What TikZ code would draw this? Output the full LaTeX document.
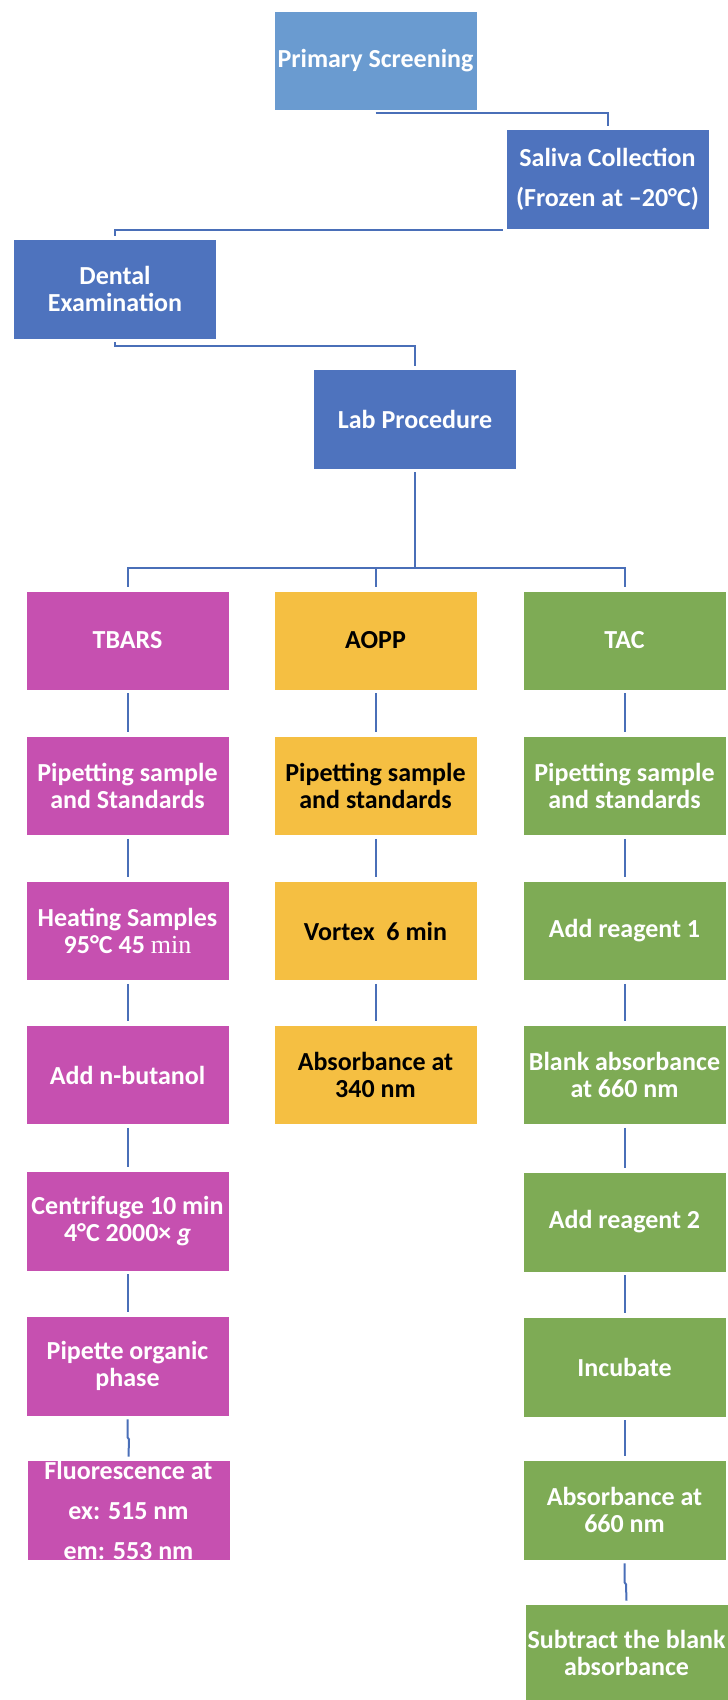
\documentclass[tikz,border=0pt]{standalone}
\usepackage{fontspec}
\setmainfont{Carlito}
\newfontfamily\serifmin{Liberation Serif}
\definecolor{clPrim}{HTML}{6A9BD0}
\definecolor{clBlue}{HTML}{4E73BE}
\definecolor{clMag}{HTML}{C650B0}
\definecolor{clYel}{HTML}{F5BF42}
\definecolor{clGrn}{HTML}{7EAB55}
\definecolor{clLine}{HTML}{4A6FB8}
\begin{document}
\begin{tikzpicture}[x=1pt,y=-1pt,
  box/.style={rectangle, draw=white, line width=0.6pt, minimum width=203pt, minimum height=99pt,
    inner sep=0pt, align=center, text=white, font=\fontsize{26}{27}\selectfont\bfseries},
  widebox/.style={box, font=\fontsize{26}{40}\selectfont\bfseries},
  primbox/.style={box, fill=clPrim},
  bluebox/.style={box, fill=clBlue},
  magbox/.style={box, fill=clMag},
  yelbox/.style={box, fill=clYel, text=black},
  grnbox/.style={box, fill=clGrn},
  conn/.style={draw=clLine, line width=2pt},
  vconn/.style={conn, shorten <=3pt, shorten >=4pt}
]
\useasboundingbox (0,0) rectangle (728,1700);

% top chain
\node[primbox] (prim) at (375.5,61) {Primary Screening};
\node[bluebox, widebox, fill=clBlue, minimum height=100pt] (sal) at (607.5,179) {Saliva Collection\\(Frozen at –20°C)};
\node[bluebox, minimum height=100pt] (dent) at (115,289) {Dental\\Examination};
\node[bluebox, minimum height=100pt] (lab) at (415,419) {Lab Procedure};

% TBARS column
\node[magbox] (tb1) at (127.5,640.5) {TBARS};
\node[magbox] (tb2) at (127.5,786) {Pipetting sample\\and Standards};
\node[magbox] (tb3) at (127.5,931) {Heating Samples\\95°C 45 {\serifmin\mdseries min}};
\node[magbox] (tb4) at (127.5,1075) {Add n-butanol};
\node[magbox, minimum height=100pt] (tb5) at (127.5,1221) {Centrifuge 10 min\\4°C 2000× \textit{g}};
\node[magbox, minimum height=100pt] (tb6) at (127.5,1366) {Pipette organic\\phase};
\node[magbox, widebox, fill=clMag, minimum height=100pt] (tb7) at (128.5,1510) {Fluorescence at\\ex: 515 nm\\em: 553 nm};

% AOPP column
\node[yelbox] (ao1) at (375.5,640.5) {AOPP};
\node[yelbox] (ao2) at (375.5,786) {Pipetting sample\\and standards};
\node[yelbox] (ao3) at (375.5,931) {Vortex\ \ 6 min};
\node[yelbox] (ao4) at (375.5,1075) {Absorbance at\\340 nm};

% TAC column
\node[grnbox] (tc1) at (624.5,640.5) {TAC};
\node[grnbox] (tc2) at (624.5,786) {Pipetting sample\\and standards};
\node[grnbox] (tc3) at (624.5,931) {Add reagent 1};
\node[grnbox] (tc4) at (624.5,1075) {Blank absorbance\\at 660 nm};
\node[grnbox, minimum height=100pt] (tc5) at (624.5,1222) {Add reagent 2};
\node[grnbox, minimum height=100pt] (tc6) at (624.5,1367) {Incubate};
\node[grnbox, minimum height=100pt] (tc7) at (624.5,1510) {Absorbance at\\660 nm};
\node[grnbox, minimum height=98pt] (tc8) at (626.5,1653) {Subtract the blank\\absorbance};

% top connectors
\draw[conn] ([yshift=-2pt]prim.south) -| ([yshift=3pt]sal.north);
\draw[conn] ([xshift=-3pt,yshift=-0.5pt]sal.south west) -| ([yshift=3pt]dent.north);
\draw[conn] ([yshift=-3pt]dent.south) -- ++(0,4) -| ([yshift=3pt]lab.north);

% branch
\coordinate (j) at (415,568);
\draw[conn] ([yshift=-3pt]lab.south) -- (j);
\draw[conn] (j) -| ([yshift=4pt]tb1.north);
\draw[conn] (j) -| ([yshift=4pt]tc1.north);
\draw[conn] (ao1.north |- j) -- ([yshift=4pt]ao1.north);

% column connectors
\foreach \a/\b in {tb1/tb2,tb2/tb3,tb3/tb4,tb4/tb5,tb5/tb6,ao1/ao2,ao2/ao3,ao3/ao4,tc1/tc2,tc2/tc3,tc3/tc4,tc4/tc5,tc5/tc6,tc6/tc7}
  \draw[vconn] (\a.south) -- (\a.south |- \b.north);
\draw[conn] ([yshift=-3pt]tb6.south) -- ++(0,18) -- ++(1.5,2) -- ([yshift=3pt]tb7.north);
\draw[conn] ([yshift=-3pt]tc7.south) -- ++(0,19) -- ++(1.5,2) -- ([yshift=3pt]tc8.north);
\end{tikzpicture}
\end{document}
